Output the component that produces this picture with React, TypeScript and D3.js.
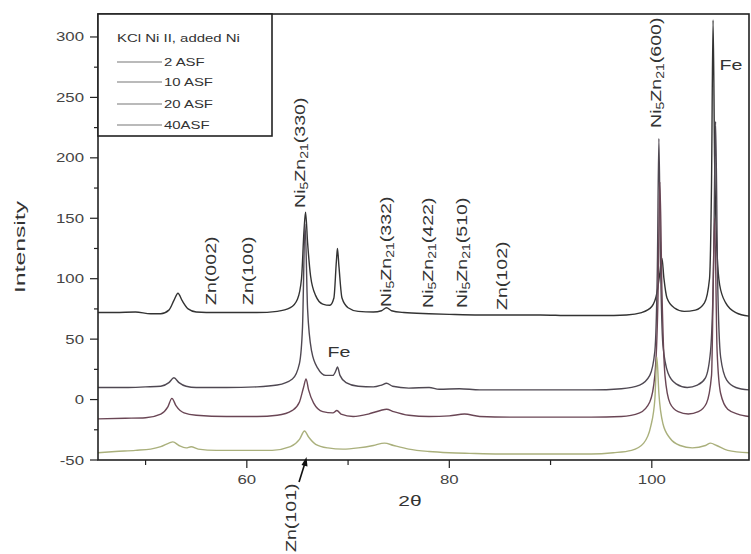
import * as d3 from "d3";

// ---- data: [2θ, intensity] ----
const asf2: [number, number][] = [
  [45.3, 72], [47, 72], [49, 72.5], [50.5, 71], [51.5, 71], [52.3, 74], [52.8, 82], [53.2, 88], [53.6, 82],
  [54.2, 75], [55, 72.5], [57, 72], [59, 72], [61, 72], [63, 73], [64.3, 76], [65, 83], [65.4, 100],
  [65.65, 140], [65.8, 155], [66, 130], [66.3, 102], [66.8, 86], [67.5, 79], [68.2, 78], [68.6, 84],
  [68.85, 115], [68.95, 125], [69.1, 110], [69.4, 84], [70, 76], [71, 73], [72.5, 72.5], [73.3, 73.5],
  [73.8, 76], [74.3, 73.5], [75.5, 72], [78, 71], [80, 70.5], [83, 70], [86, 70], [89, 70], [92, 69.5],
  [95, 69.5], [97.5, 70], [99, 72], [100, 77], [100.5, 88], [100.8, 105], [101.0, 117], [101.2, 100],
  [101.5, 84], [102.2, 76], [103.2, 73], [104.3, 74], [105.2, 80], [105.7, 100], [105.9, 180],
  [106.05, 314], [106.2, 200], [106.4, 130], [106.7, 95], [107.3, 80], [108.3, 72], [109.6, 69],
];

const asf10: [number, number][] = [
  [45.3, 10], [48, 10], [50, 10.5], [51.5, 11], [52.3, 14], [52.8, 18], [53.3, 14], [54, 11], [55, 10],
  [58, 10], [61, 10.5], [63, 12], [64.5, 17], [65.2, 30], [65.5, 60], [65.75, 145], [66, 75], [66.4, 40],
  [67, 26], [67.8, 20], [68.5, 20], [68.8, 24], [68.95, 27], [69.2, 20], [69.8, 14], [71, 11], [72.5, 10.5],
  [73.3, 12], [73.8, 13.5], [74.4, 11], [76, 9.5], [78, 10], [79, 8.5], [81, 9], [83, 8], [86, 8], [90, 8],
  [94, 8], [97, 9], [98.8, 12], [99.8, 20], [100.3, 40], [100.55, 110], [100.7, 216], [100.85, 120],
  [101.1, 45], [101.6, 22], [102.4, 13], [103.5, 10], [104.5, 12], [105.3, 18], [105.8, 40], [106.1, 110],
  [106.3, 230], [106.5, 100], [106.8, 35], [107.4, 16], [108.3, 10], [109.6, 8],
];

const asf20: [number, number][] = [
  [45.3, -16], [48, -15.5], [50, -15], [51.5, -12], [52.2, -6], [52.6, 1], [53, -5], [53.8, -11], [55, -13],
  [58, -14], [61, -14], [63, -13], [64.5, -9], [65.2, -2], [65.6, 10], [65.85, 17], [66.1, 8], [66.6, -3],
  [67.5, -10], [68.5, -11], [68.9, -9], [69.3, -12], [70.5, -14], [72, -12], [73.2, -9], [73.8, -8],
  [74.5, -10], [76, -13], [78, -14], [80, -13.5], [81.5, -12], [83, -14], [86, -14.5], [90, -14.5],
  [94, -14.5], [97, -14], [98.8, -11], [99.8, -2], [100.3, 20], [100.6, 80], [100.8, 180], [101.0, 90],
  [101.3, 20], [101.8, -3], [102.6, -10], [103.6, -12], [104.6, -10], [105.4, -3], [105.9, 20],
  [106.2, 150], [106.45, 40], [106.8, 5], [107.5, -8], [108.5, -12], [109.6, -14],
];

const asf40: [number, number][] = [
  [45.3, -44], [47, -43], [49, -42], [50.5, -41], [51.5, -39], [52.3, -36], [52.7, -35], [53.3, -38],
  [54, -40], [54.5, -39], [55.2, -41], [57, -42], [60, -42], [62.5, -42], [64.3, -39], [65.2, -33],
  [65.7, -26], [66.1, -31], [66.8, -37], [68, -40], [69.5, -41], [71, -40], [72.5, -38], [73.6, -36],
  [74.5, -38], [76, -41], [78, -43], [80, -44], [82, -44.5], [85, -45], [88, -45], [91, -45], [94, -45],
  [96.2, -44], [98, -42], [99.2, -36], [99.9, -22], [100.3, 0], [100.5, 35], [100.7, 5], [101.1, -20],
  [101.8, -32], [102.8, -38], [104, -40], [105.3, -38], [105.8, -36], [106.4, -38], [107.5, -42],
  [109.6, -44],
];

const seriesNames = ["2 ASF", "10 ASF", "20 ASF", "40ASF"];
const seriesData = [asf2, asf10, asf20, asf40];
const seriesColors = ["#333333", "#4f4852", "#6a4655", "#aab07c"];
const legendTitle = "KCl Ni II, added Ni";

const xMajor = [60, 80, 100];
const xMinor = [50, 70, 90];
const yMajor = [-50, 0, 50, 100, 150, 200, 250, 300];
const yMinor = [-25, 25, 75, 125, 175, 225, 275];

// rotated peak labels, placed by pixel (column centre, bottom end)
const peakLabels = [
  { x: 211, y: 305, pre: "Zn(002)" },
  { x: 248, y: 305, pre: "Zn(100)" },
  { x: 300, y: 208, pre: "Ni", s1: "5", mid: "Zn", s2: "21", post: "(330)" },
  { x: 386, y: 307, pre: "Ni", s1: "5", mid: "Zn", s2: "21", post: "(332)" },
  { x: 428, y: 308, pre: "Ni", s1: "5", mid: "Zn", s2: "21", post: "(422)" },
  { x: 462, y: 308, pre: "Ni", s1: "5", mid: "Zn", s2: "21", post: "(510)" },
  { x: 502, y: 310, pre: "Zn(102)" },
  { x: 656, y: 128, pre: "Ni", s1: "5", mid: "Zn", s2: "21", post: "(600)" },
];

const W = 751;
const H = 554;
const L = 98, R = 749, T = 14, B = 460;
const SX = 1.4;
const font = "'Liberation Sans', Arial, sans-serif";

export default function App() {
  const x = d3.scaleLinear().domain([45.3, 109.6]).range([L, R]);
  const y = d3.scaleLinear().domain([-50, 319]).range([B, T]);
  const line = d3
    .line<[number, number]>()
    .x(d => x(d[0]))
    .y(d => y(d[1]))
    .curve(d3.curveMonotoneX);

  return (
    <svg width={W} height={H} style={{ position: "absolute", left: 0, top: 0, background: "#fff" }}>
      <defs>
        <clipPath id="plot">
          <rect x={L} y={T} width={R - L} height={B - T} />
        </clipPath>
      </defs>

      {/* curves */}
      <g clipPath="url(#plot)">
        {seriesData.map((d, i) => (
          <path key={i} d={line(d) || ""} fill="none" stroke={seriesColors[i]} strokeWidth={1.4} />
        ))}
      </g>

      {/* frame */}
      <rect x={L} y={T} width={R - L} height={B - T} fill="none" stroke="#222" strokeWidth={1.6} />

      {/* y axis */}
      {yMajor.map(v => (
        <g key={v}>
          <line x1={L - 8} x2={L} y1={y(v)} y2={y(v)} stroke="#222" strokeWidth={1.2} />
          <text
            transform={`translate(${L - 14},${y(v) + 4.5}) scale(${SX},1)`}
            textAnchor="end"
            fontSize={12}
            fontFamily={font}
            fill="#444"
          >
            {v}
          </text>
        </g>
      ))}
      {yMinor.map(v => (
        <line key={v} x1={L - 4} x2={L} y1={y(v)} y2={y(v)} stroke="#222" strokeWidth={1.2} />
      ))}

      {/* x axis */}
      {xMajor.map(v => (
        <g key={v}>
          <line x1={x(v)} x2={x(v)} y1={B} y2={B + 8} stroke="#222" strokeWidth={1.2} />
          <text
            transform={`translate(${x(v)},${B + 24}) scale(${SX},1)`}
            textAnchor="middle"
            fontSize={12}
            fontFamily={font}
            fill="#444"
          >
            {v}
          </text>
        </g>
      ))}
      {xMinor.map(v => (
        <line key={v} x1={x(v)} x2={x(v)} y1={B} y2={B + 5} stroke="#222" strokeWidth={1.2} />
      ))}

      {/* axis titles */}
      <text
        transform={`translate(25,247) rotate(-90) scale(1.65,1)`}
        textAnchor="middle"
        fontSize={15}
        fontFamily={font}
        fill="#333"
      >
        Intensity
      </text>
      <text
        transform={`translate(410,506) scale(${SX},1)`}
        textAnchor="middle"
        fontSize={15}
        fontFamily={font}
        fill="#333"
      >
        2θ
      </text>

      {/* peak labels */}
      {peakLabels.map((p, i) => (
        <text
          key={i}
          transform={`translate(${p.x + 5},${p.y}) rotate(-90) scale(${SX},1)`}
          fontSize={14}
          fontFamily={font}
          fill="#333"
        >
          {p.pre}
          {p.s1 && (
            <>
              <tspan dy={3} fontSize={10}>{p.s1}</tspan>
              <tspan dy={-3}>{p.mid}</tspan>
              <tspan dy={3} fontSize={10}>{p.s2}</tspan>
              <tspan dy={-3}>{p.post}</tspan>
            </>
          )}
        </text>
      ))}
      <text transform={`translate(731,70) scale(${SX},1)`} textAnchor="middle" fontSize={14} fontFamily={font} fill="#333">
        Fe
      </text>
      <text transform={`translate(339,357) scale(${SX},1)`} textAnchor="middle" fontSize={14} fontFamily={font} fill="#333">
        Fe
      </text>

      {/* Zn(101) below axis with arrow */}
      <text
        transform={`translate(${291 + 5},552) rotate(-90) scale(${SX},1)`}
        fontSize={14}
        fontFamily={font}
        fill="#333"
      >
        Zn(101)
      </text>
      <line x1={299} y1={482} x2={305} y2={463} stroke="#111" strokeWidth={1.6} />
      <path d="M 306.5 457 L 301.5 465 L 307.5 466.5 Z" fill="#111" />

      {/* legend */}
      <rect x={L} y={T} width={174} height={122} fill="#fff" stroke="#222" strokeWidth={1.6} />
      <text transform={`translate(117,42) scale(1.3,1)`} fontSize={11.5} fontFamily={font} fill="#333">
        {legendTitle}
      </text>
      {seriesNames.map((n, i) => {
        const ly = [62, 82, 104, 125][i];
        return (
          <g key={n}>
            <line x1={117} x2={162} y1={ly} y2={ly} stroke="#777" strokeWidth={1.2} />
            <text transform={`translate(164,${ly + 4}) scale(1.3,1)`} fontSize={11.5} fontFamily={font} fill="#333">
              {n}
            </text>
          </g>
        );
      })}
    </svg>
  );
}
